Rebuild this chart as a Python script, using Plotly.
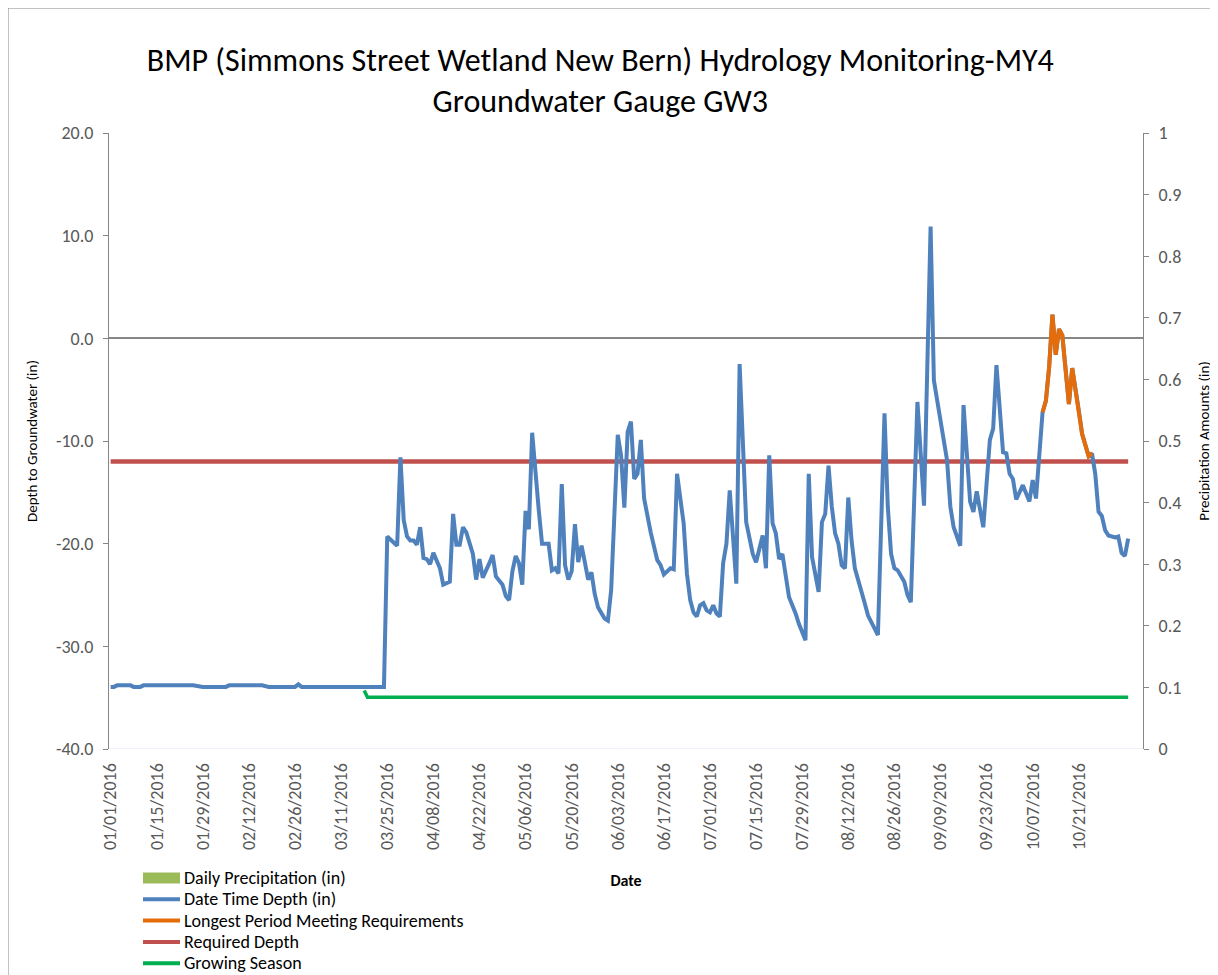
import plotly.graph_objects as go

# Groundwater gauge GW3, depth to groundwater (in)
gauge_dates = [
    # Jan - Mar (well dry, flat reading)
    "2016-01-01", "2016-01-02", "2016-01-03", "2016-01-07", "2016-01-08", "2016-01-10",
    "2016-01-11", "2016-01-26", "2016-01-29", "2016-02-05", "2016-02-06", "2016-02-16",
    "2016-02-18", "2016-02-26", "2016-02-27", "2016-02-28", "2016-03-24",
    "2016-03-25", "2016-03-28", "2016-03-29", "2016-03-30", "2016-03-31",
    # Apr
    "2016-04-01", "2016-04-02", "2016-04-03", "2016-04-04", "2016-04-05", "2016-04-06",
    "2016-04-07", "2016-04-08", "2016-04-10", "2016-04-11", "2016-04-13", "2016-04-14",
    "2016-04-15", "2016-04-16", "2016-04-17", "2016-04-18", "2016-04-20", "2016-04-21",
    "2016-04-22", "2016-04-23", "2016-04-25", "2016-04-26", "2016-04-27", "2016-04-29",
    "2016-04-30",
    # May
    "2016-05-01", "2016-05-02", "2016-05-03", "2016-05-04", "2016-05-05", "2016-05-06",
    "2016-05-07", "2016-05-08", "2016-05-09", "2016-05-10", "2016-05-11", "2016-05-13",
    "2016-05-14", "2016-05-15", "2016-05-16", "2016-05-17", "2016-05-18", "2016-05-19",
    "2016-05-20", "2016-05-21", "2016-05-22", "2016-05-23", "2016-05-24", "2016-05-25",
    "2016-05-26", "2016-05-27", "2016-05-28", "2016-05-30", "2016-05-31",
    # Jun
    "2016-06-01", "2016-06-03", "2016-06-04", "2016-06-05", "2016-06-06", "2016-06-07",
    "2016-06-08", "2016-06-09", "2016-06-10", "2016-06-11", "2016-06-13", "2016-06-15",
    "2016-06-16", "2016-06-17", "2016-06-19", "2016-06-20", "2016-06-21", "2016-06-23",
    "2016-06-24", "2016-06-25", "2016-06-26", "2016-06-27", "2016-06-28", "2016-06-29",
    "2016-06-30",
    # Jul
    "2016-07-01", "2016-07-02", "2016-07-03", "2016-07-04", "2016-07-05", "2016-07-06",
    "2016-07-07", "2016-07-09", "2016-07-10", "2016-07-11", "2016-07-12", "2016-07-14",
    "2016-07-15", "2016-07-17", "2016-07-18", "2016-07-19", "2016-07-20", "2016-07-21",
    "2016-07-22", "2016-07-23", "2016-07-24", "2016-07-25", "2016-07-27", "2016-07-28",
    "2016-07-30", "2016-07-31",
    # Aug
    "2016-08-01", "2016-08-03", "2016-08-04", "2016-08-05", "2016-08-06", "2016-08-07",
    "2016-08-08", "2016-08-09", "2016-08-10", "2016-08-11", "2016-08-12", "2016-08-13",
    "2016-08-14", "2016-08-16", "2016-08-17", "2016-08-18", "2016-08-21", "2016-08-23",
    "2016-08-24", "2016-08-25", "2016-08-26", "2016-08-27", "2016-08-29", "2016-08-30",
    "2016-08-31",
    # Sep
    "2016-09-02", "2016-09-04", "2016-09-06", "2016-09-07", "2016-09-11", "2016-09-12",
    "2016-09-13", "2016-09-15", "2016-09-16", "2016-09-18", "2016-09-19", "2016-09-20",
    "2016-09-22", "2016-09-24", "2016-09-25", "2016-09-26", "2016-09-28", "2016-09-29",
    "2016-09-30",
    # Oct - Nov
    "2016-10-01", "2016-10-02", "2016-10-04", "2016-10-06", "2016-10-07", "2016-10-08",
    "2016-10-10", "2016-10-11", "2016-10-12", "2016-10-13", "2016-10-14", "2016-10-15",
    "2016-10-16", "2016-10-18", "2016-10-19", "2016-10-21", "2016-10-22", "2016-10-24",
    "2016-10-25", "2016-10-26", "2016-10-27", "2016-10-28", "2016-10-29", "2016-10-30",
    "2016-11-01", "2016-11-02", "2016-11-03", "2016-11-04", "2016-11-05",
]
gauge_depth_in = [
    -33.95, -33.95, -33.8, -33.8, -33.95, -33.95,
    -33.8, -33.8, -33.95, -33.95, -33.8, -33.8,
    -33.95, -33.95, -33.7, -33.95, -33.95,
    -19.3, -20.2, -11.6, -17.7, -19.3,
    -19.7, -19.7, -20.1, -18.4, -21.4, -21.5,
    -22.0, -20.9, -22.4, -24.0, -23.7, -17.1,
    -20.1, -20.1, -18.4, -18.9, -21.0, -23.5,
    -21.5, -23.3, -21.9, -21.1, -23.2, -24.0,
    -25.1,
    -25.5, -22.7, -21.2, -21.9, -24.0, -16.8,
    -18.6, -9.2, -13.3, -16.7, -20.0, -20.0,
    -22.6, -22.4, -22.9, -14.2, -22.1, -23.5,
    -22.7, -18.1, -21.8, -20.2, -21.8, -23.5,
    -22.8, -24.9, -26.2, -27.3, -27.5,
    -24.5, -9.4, -11.4, -16.5, -9.1, -8.1,
    -13.7, -13.2, -9.9, -15.6, -18.9, -21.6,
    -22.1, -23.0, -22.4, -22.5, -13.2, -18.0,
    -22.9, -25.5, -26.7, -27.1, -26.0, -25.8,
    -26.5,
    -26.7, -26.0, -26.8, -27.1, -21.9, -20.0,
    -14.8, -23.9, -2.5, -9.9, -17.9, -21.0,
    -21.8, -19.2, -22.4, -11.4, -18.0, -19.0,
    -21.5, -21.0, -23.4, -25.2, -26.8, -27.8,
    -29.4, -13.2,
    -21.3, -24.7, -17.9, -17.1, -12.4, -16.4,
    -19.0, -20.0, -22.1, -22.4, -15.5, -19.7,
    -22.4, -24.9, -25.8, -27.0, -28.9, -7.3,
    -16.4, -21.0, -22.4, -22.6, -23.7, -25.0,
    -25.7,
    -6.2, -16.3, 10.9, -4.1, -11.9, -16.4,
    -18.4, -20.2, -6.5, -15.9, -16.9, -14.9,
    -18.4, -9.9, -8.8, -2.6, -11.1, -11.2,
    -13.2,
    -13.7, -15.7, -14.3, -15.9, -13.8, -15.6,
    -7.2, -6.1, -2.8, 2.3, -1.6, 0.9,
    0.3, -6.4, -2.9, -7.0, -9.3, -11.5,
    -11.2, -13.2, -16.9, -17.3, -18.7, -19.2,
    -19.4, -19.3, -20.9, -21.2, -19.5,
]
assert len(gauge_dates) == len(gauge_depth_in)

# longest run at or above the required depth
period_start, period_end = "2016-10-10", "2016-10-25"

required_dates = ["2016-01-01", "2016-11-05"]
required_depth_in = [-12, -12]

growing_dates = ["2016-03-18", "2016-03-19", "2016-11-05"]
growing_level_in = [-34.3, -34.95, -34.95]

# no measurable rain shows on the chart
precip_dates = ["2016-01-01", "2016-11-05"]
precip_in = [0, 0]

x_tick_dates = [
    "2016-01-01", "2016-01-15", "2016-01-29", "2016-02-12", "2016-02-26", "2016-03-11",
    "2016-03-25", "2016-04-08", "2016-04-22", "2016-05-06", "2016-05-20", "2016-06-03",
    "2016-06-17", "2016-07-01", "2016-07-15", "2016-07-29", "2016-08-12", "2016-08-26",
    "2016-09-09", "2016-09-23", "2016-10-07", "2016-10-21",
]
left_ticks = [20, 10, 0, -10, -20, -30, -40]
right_ticks = [0, 0.1, 0.2, 0.3, 0.4, 0.5, 0.6, 0.7, 0.8, 0.9, 1]

period = [(d, v) for d, v in zip(gauge_dates, gauge_depth_in) if period_start <= d <= period_end]
period_dates = [d for d, _ in period]
period_depth_in = [v for _, v in period]

FONT = "Calibri, Carlito, Lato, sans-serif"
AXIS_GRAY = "#868686"
TICK_GRAY = "#595959"

# the page body adds an 8px margin, so the figure is sized to fill the rest of the window
OFF = 8
W, H = 1218 - OFF, 975 - OFF
L, R, T, B = 109 - OFF, 75, 133 - OFF, 226
PW, PH = W - L - R, H - T - B


def px_x(sx):
    # window pixel -> paper x
    return (sx - OFF - L) / PW


def px_y(sy):
    # window pixel -> paper y
    return (H - B - (sy - OFF)) / PH


series = [
    ("Daily Precipitation (in)", "#9BBB59", "bar"),
    ("Date Time Depth (in)", "#4F81BD", "line"),
    ("Longest Period Meeting Requirements", "#E46C0A", "line"),
    ("Required Depth", "#C0504D", "line"),
    ("Growing Season", "#00B050", "line"),
]
colors = {name: c for name, c, _ in series}

fig = go.Figure()
fig.add_trace(go.Bar(name=series[0][0], x=precip_dates, y=precip_in, yaxis="y2",
                     marker_color=colors[series[0][0]]))
fig.add_trace(go.Scatter(name="Required Depth", x=required_dates, y=required_depth_in, mode="lines",
                         line=dict(color=colors["Required Depth"], width=4.5)))
fig.add_trace(go.Scatter(name="Growing Season", x=growing_dates, y=growing_level_in, mode="lines",
                         line=dict(color=colors["Growing Season"], width=3.5)))
fig.add_trace(go.Scatter(name="Date Time Depth (in)", x=gauge_dates, y=gauge_depth_in, mode="lines",
                         line=dict(color=colors["Date Time Depth (in)"], width=4)))
fig.add_trace(go.Scatter(name="Longest Period Meeting Requirements", x=period_dates, y=period_depth_in,
                         mode="lines", line=dict(color=colors["Longest Period Meeting Requirements"], width=4)))

# legend drawn like Excel's: long swatches, tight rows
shapes = [dict(type="rect", xref="paper", yref="paper", x0=px_x(8), x1=px_x(1212), y0=px_y(995), y1=px_y(8),
               line=dict(color=AXIS_GRAY, width=1), fillcolor="rgba(0,0,0,0)", layer="below")]
annotations = []
for i, (name, color, kind) in enumerate(series):
    cy = 878 + i * 21.3
    if kind == "bar":
        shapes.append(dict(type="rect", xref="paper", yref="paper", x0=px_x(143), x1=px_x(180),
                           y0=px_y(cy + 5.5), y1=px_y(cy - 5.5), line=dict(width=0), fillcolor=color))
    else:
        shapes.append(dict(type="line", xref="paper", yref="paper", x0=px_x(143), x1=px_x(180),
                           y0=px_y(cy), y1=px_y(cy), line=dict(color=color, width=4)))
    annotations.append(dict(text=name, xref="paper", yref="paper", x=px_x(182), y=px_y(cy),
                            xanchor="left", yanchor="middle", showarrow=False,
                            font=dict(size=18, color="black")))

fig.update_layout(
    width=W, height=H,
    margin=dict(l=L, r=R, t=T, b=B, autoexpand=False),
    paper_bgcolor="white", plot_bgcolor="white",
    font=dict(family=FONT, color="black"),
    title=dict(text="BMP (Simmons Street Wetland New Bern) Hydrology Monitoring-MY4<br>Groundwater Gauge GW3",
               x=0.4895, xanchor="center", y=0.935, yanchor="top", font=dict(size=32, color="black")),
    showlegend=False,
    bargap=0,
    xaxis=dict(type="date", range=["2015-12-31 12:00", "2016-11-09 12:00"], tickvals=x_tick_dates,
               tickformat="%m/%d/%Y", tickangle=-90,
               tickfont=dict(size=18, color=TICK_GRAY), showgrid=False, showline=False,
               ticks="outside", ticklen=6, tickcolor="rgba(0,0,0,0)", zeroline=False, automargin=False,
               title=dict(text="<b>Date</b>", font=dict(size=16, color="black"), standoff=25)),
    yaxis=dict(range=[-40, 20], tickvals=left_ticks, ticktext=[f"{v:.1f}" for v in left_ticks],
               tickfont=dict(size=18, color=TICK_GRAY), showgrid=False, showline=True,
               linecolor=AXIS_GRAY, linewidth=1, ticks="outside", ticklen=5, tickcolor=AXIS_GRAY,
               ticklabelstandoff=6,
               zeroline=True, zerolinecolor=AXIS_GRAY, zerolinewidth=1.5, automargin=False,
               title=dict(text="Depth to Groundwater (in)", font=dict(size=15, color="black"), standoff=14)),
    yaxis2=dict(range=[0, 1], overlaying="y", side="right", tickvals=right_ticks,
                ticktext=[f"{v:g}" for v in right_ticks],
                tickfont=dict(size=18, color=TICK_GRAY), showgrid=False, showline=True,
                linecolor=AXIS_GRAY, linewidth=1, ticks="outside", ticklen=5, tickcolor=AXIS_GRAY,
                ticklabelstandoff=6,
                zeroline=False, automargin=False,
                title=dict(text="Precipitation Amounts (in)", font=dict(size=15, color="black"), standoff=18)),
    shapes=shapes,
    annotations=annotations,
)

fig.write_html("out.html")
